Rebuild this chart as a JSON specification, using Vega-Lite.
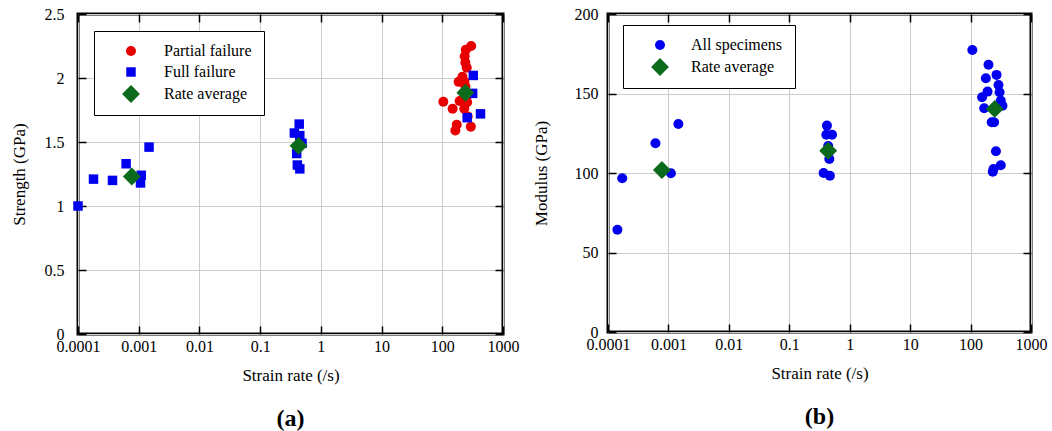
{
  "$schema": "https://vega.github.io/schema/vega-lite/v6.json",
  "background": "white",
  "padding": {"left": 8, "top": 4, "right": 10, "bottom": 3},
  "spacing": 105,
  "bounds": "flush",
  "resolve": {"scale": {"color": "independent", "shape": "independent", "size": "independent"}},
  "config": {
    "font": "Liberation Serif",
    "view": {"stroke": "black", "strokeWidth": 3},
    "axis": {
      "domain": false,
      "tickSize": -8,
      "tickWidth": 1.5,
      "tickColor": "black",
      "labelFont": "Liberation Serif",
      "titleFont": "Liberation Serif",
      "labelFontSize": 16,
      "titleFontSize": 17,
      "titleFontWeight": "normal",
      "labelColor": "black",
      "titleColor": "black",
      "gridColor": "#cccccc",
      "gridWidth": 1,
      "labelFlush": false,
      "labelOverlap": false
    },
    "axisX": {"labelPadding": 12, "titlePadding": 13, "labelFont": "Liberation Serif", "titleFont": "Liberation Serif"},
    "axisY": {"labelPadding": 22, "titlePadding": 16, "labelFont": "Liberation Serif", "titleFont": "Liberation Serif"},
    "legend": {"labelFont": "Liberation Serif"},
    "title": {"font": "Liberation Serif", "color": "black"}
  },
  "datasets": {
    "strength": [
      {"rate": 0.0001, "value": 1.00, "series": "Full failure"},
      {"rate": 0.00018, "value": 1.21, "series": "Full failure"},
      {"rate": 0.00037, "value": 1.20, "series": "Full failure"},
      {"rate": 0.00062, "value": 1.33, "series": "Full failure"},
      {"rate": 0.0011, "value": 1.24, "series": "Full failure"},
      {"rate": 0.00107, "value": 1.18, "series": "Full failure"},
      {"rate": 0.00148, "value": 1.46, "series": "Full failure"},
      {"rate": 0.44, "value": 1.64, "series": "Full failure"},
      {"rate": 0.366, "value": 1.57, "series": "Full failure"},
      {"rate": 0.45, "value": 1.55, "series": "Full failure"},
      {"rate": 0.49, "value": 1.49, "series": "Full failure"},
      {"rate": 0.40, "value": 1.41, "series": "Full failure"},
      {"rate": 0.41, "value": 1.32, "series": "Full failure"},
      {"rate": 0.45, "value": 1.29, "series": "Full failure"},
      {"rate": 299, "value": 2.25, "series": "Partial failure"},
      {"rate": 244, "value": 2.22, "series": "Partial failure"},
      {"rate": 234, "value": 2.17, "series": "Partial failure"},
      {"rate": 240, "value": 2.12, "series": "Partial failure"},
      {"rate": 253, "value": 2.08, "series": "Partial failure"},
      {"rate": 215, "value": 2.01, "series": "Partial failure"},
      {"rate": 186, "value": 1.97, "series": "Partial failure"},
      {"rate": 232, "value": 1.97, "series": "Partial failure"},
      {"rate": 240, "value": 1.935, "series": "Partial failure"},
      {"rate": 250, "value": 1.85, "series": "Partial failure"},
      {"rate": 104, "value": 1.815, "series": "Partial failure"},
      {"rate": 193, "value": 1.82, "series": "Partial failure"},
      {"rate": 257, "value": 1.81, "series": "Partial failure"},
      {"rate": 148, "value": 1.76, "series": "Partial failure"},
      {"rate": 230, "value": 1.76, "series": "Partial failure"},
      {"rate": 262, "value": 1.70, "series": "Partial failure"},
      {"rate": 173, "value": 1.635, "series": "Partial failure"},
      {"rate": 164, "value": 1.59, "series": "Partial failure"},
      {"rate": 295, "value": 1.62, "series": "Partial failure"},
      {"rate": 324, "value": 2.02, "series": "Full failure"},
      {"rate": 316, "value": 1.88, "series": "Full failure"},
      {"rate": 257, "value": 1.69, "series": "Full failure"},
      {"rate": 426, "value": 1.72, "series": "Full failure"},
      {"rate": 0.00077, "value": 1.23, "series": "Rate average"},
      {"rate": 0.43, "value": 1.47, "series": "Rate average"},
      {"rate": 240, "value": 1.885, "series": "Rate average"}
    ],
    "modulus": [
      {"rate": 0.000143, "value": 64.3, "series": "All specimens"},
      {"rate": 0.000172, "value": 96.7, "series": "All specimens"},
      {"rate": 0.00061, "value": 118.7, "series": "All specimens"},
      {"rate": 0.0011, "value": 99.8, "series": "All specimens"},
      {"rate": 0.00146, "value": 130.8, "series": "All specimens"},
      {"rate": 0.42, "value": 129.8, "series": "All specimens"},
      {"rate": 0.41, "value": 124.1, "series": "All specimens"},
      {"rate": 0.51, "value": 124.1, "series": "All specimens"},
      {"rate": 0.44, "value": 117, "series": "All specimens"},
      {"rate": 0.45, "value": 113, "series": "All specimens"},
      {"rate": 0.46, "value": 108.8, "series": "All specimens"},
      {"rate": 0.37, "value": 100, "series": "All specimens"},
      {"rate": 0.47, "value": 98.3, "series": "All specimens"},
      {"rate": 107, "value": 177.4, "series": "All specimens"},
      {"rate": 198, "value": 168.1, "series": "All specimens"},
      {"rate": 179, "value": 159.6, "series": "All specimens"},
      {"rate": 269, "value": 161.7, "series": "All specimens"},
      {"rate": 290, "value": 155.4, "series": "All specimens"},
      {"rate": 302, "value": 150.8, "series": "All specimens"},
      {"rate": 191, "value": 151.2, "series": "All specimens"},
      {"rate": 155, "value": 147.6, "series": "All specimens"},
      {"rate": 316, "value": 145.5, "series": "All specimens"},
      {"rate": 337, "value": 142.3, "series": "All specimens"},
      {"rate": 168, "value": 140.7, "series": "All specimens"},
      {"rate": 224, "value": 131.9, "series": "All specimens"},
      {"rate": 245, "value": 131.9, "series": "All specimens"},
      {"rate": 263, "value": 113.7, "series": "All specimens"},
      {"rate": 316, "value": 104.9, "series": "All specimens"},
      {"rate": 233, "value": 100.8, "series": "All specimens"},
      {"rate": 240, "value": 102.5, "series": "All specimens"},
      {"rate": 0.00078, "value": 101.9, "series": "Rate average"},
      {"rate": 0.44, "value": 114, "series": "Rate average"},
      {"rate": 251, "value": 140.3, "series": "Rate average"}
    ]
  },
  "hconcat": [
    {
      "width": 425,
      "height": 320,
      "title": {"text": "(a)", "orient": "bottom", "fontSize": 24, "fontWeight": "bold", "offset": 24},
      "data": {"name": "strength"},
      "layer": [
        {
          "mark": {"type": "point", "filled": true, "opacity": 1, "strokeWidth": 0},
          "encoding": {
            "x": {"field": "rate", "type": "quantitative",
              "scale": {"type": "log", "domain": [0.0001, 1000], "nice": false},
              "axis": {"orient": "bottom", "title": "Strain rate (/s)", "values": [0.0001, 0.001, 0.01, 0.1, 1, 10, 100, 1000], "format": "~g", "grid": true}},
            "y": {"field": "value", "type": "quantitative",
              "scale": {"domain": [0, 2.5], "nice": false},
              "axis": {"orient": "left", "title": "Strength (GPa)", "values": [0, 0.5, 1, 1.5, 2, 2.5], "labelExpr": "format(datum.value, '~g')", "grid": true}},
            "color": {"field": "series", "type": "nominal",
              "scale": {"domain": ["Partial failure", "Full failure", "Rate average"], "range": ["#e80000", "#0000ee", "#0b6a1c"]},
              "legend": {"title": null, "orient": "none", "legendX": 16, "legendY": 17, "direction": "vertical",
                "fillColor": "white", "strokeColor": "black", "padding": 12,
                "symbolOffset": 16, "labelOffset": 24, "labelFontSize": 16, "labelFont": "Liberation Serif", "rowPadding": 5, "symbolStrokeWidth": 0,
                "encode": {
                  "legend": {"update": {"strokeWidth": {"value": 1.5}}},
                  "labels": {"update": {"fill": [
                  {"test": "datum.value === 'Partial failure'", "value": "#e80000"},
                  {"test": "datum.value === 'Full failure'", "value": "#0000ee"},
                  {"value": "#0b6a1c"}]}}}}},
            "shape": {"field": "series", "type": "nominal",
              "scale": {"domain": ["Partial failure", "Full failure", "Rate average"], "range": ["circle", "square", "diamond"]}},
            "size": {"field": "series", "type": "nominal",
              "scale": {"type": "ordinal", "domain": ["Partial failure", "Full failure", "Rate average"], "range": [100, 90, 320]}}
          }
        },
        {
          "mark": {"type": "point", "opacity": 0},
          "encoding": {
            "x": {"field": "rate", "type": "quantitative",
              "scale": {"type": "log", "domain": [0.0001, 1000], "nice": false},
              "axis": {"orient": "top", "title": null, "labels": false, "grid": false, "values": [0.0001, 0.001, 0.01, 0.1, 1, 10, 100, 1000]}},
            "y": {"field": "value", "type": "quantitative",
              "scale": {"domain": [0, 2.5], "nice": false},
              "axis": {"orient": "right", "title": null, "labels": false, "grid": false, "values": [0, 0.5, 1, 1.5, 2, 2.5]}}
          }
        }
      ],
      "resolve": {"axis": {"x": "independent", "y": "independent"}}
    },
    {
      "width": 423,
      "height": 318,
      "title": {"text": "(b)", "orient": "bottom", "fontSize": 24, "fontWeight": "bold", "offset": 24},
      "data": {"name": "modulus"},
      "layer": [
        {
          "mark": {"type": "point", "filled": true, "opacity": 1, "strokeWidth": 0},
          "encoding": {
            "x": {"field": "rate", "type": "quantitative",
              "scale": {"type": "log", "domain": [0.0001, 1000], "nice": false},
              "axis": {"orient": "bottom", "title": "Strain rate (/s)", "values": [0.0001, 0.001, 0.01, 0.1, 1, 10, 100, 1000], "format": "~g", "grid": true}},
            "y": {"field": "value", "type": "quantitative",
              "scale": {"domain": [0, 200], "nice": false},
              "axis": {"orient": "left", "title": "Modulus (GPa)", "values": [0, 50, 100, 150, 200], "format": "d", "grid": true, "labelPadding": 18, "titlePadding": 24}},
            "color": {"field": "series", "type": "nominal",
              "scale": {"domain": ["All specimens", "Rate average"], "range": ["#0000ee", "#0b6a1c"]},
              "legend": {"title": null, "orient": "none", "legendX": 15, "legendY": 11, "direction": "vertical",
                "fillColor": "white", "strokeColor": "black", "padding": 12,
                "symbolOffset": 16, "labelOffset": 22, "labelFontSize": 16, "labelFont": "Liberation Serif", "rowPadding": 5, "symbolStrokeWidth": 0,
                "encode": {
                  "legend": {"update": {"strokeWidth": {"value": 1.5}}},
                  "labels": {"update": {"fill": [
                  {"test": "datum.value === 'All specimens'", "value": "#0000ee"},
                  {"value": "#0b6a1c"}]}}}}},
            "shape": {"field": "series", "type": "nominal",
              "scale": {"domain": ["All specimens", "Rate average"], "range": ["circle", "diamond"]}},
            "size": {"field": "series", "type": "nominal",
              "scale": {"type": "ordinal", "domain": ["All specimens", "Rate average"], "range": [100, 320]}}
          }
        },
        {
          "mark": {"type": "point", "opacity": 0},
          "encoding": {
            "x": {"field": "rate", "type": "quantitative",
              "scale": {"type": "log", "domain": [0.0001, 1000], "nice": false},
              "axis": {"orient": "top", "title": null, "labels": false, "grid": false, "values": [0.0001, 0.001, 0.01, 0.1, 1, 10, 100, 1000]}},
            "y": {"field": "value", "type": "quantitative",
              "scale": {"domain": [0, 200], "nice": false},
              "axis": {"orient": "right", "title": null, "labels": false, "grid": false, "values": [0, 50, 100, 150, 200]}}
          }
        }
      ],
      "resolve": {"axis": {"x": "independent", "y": "independent"}}
    }
  ]
}
